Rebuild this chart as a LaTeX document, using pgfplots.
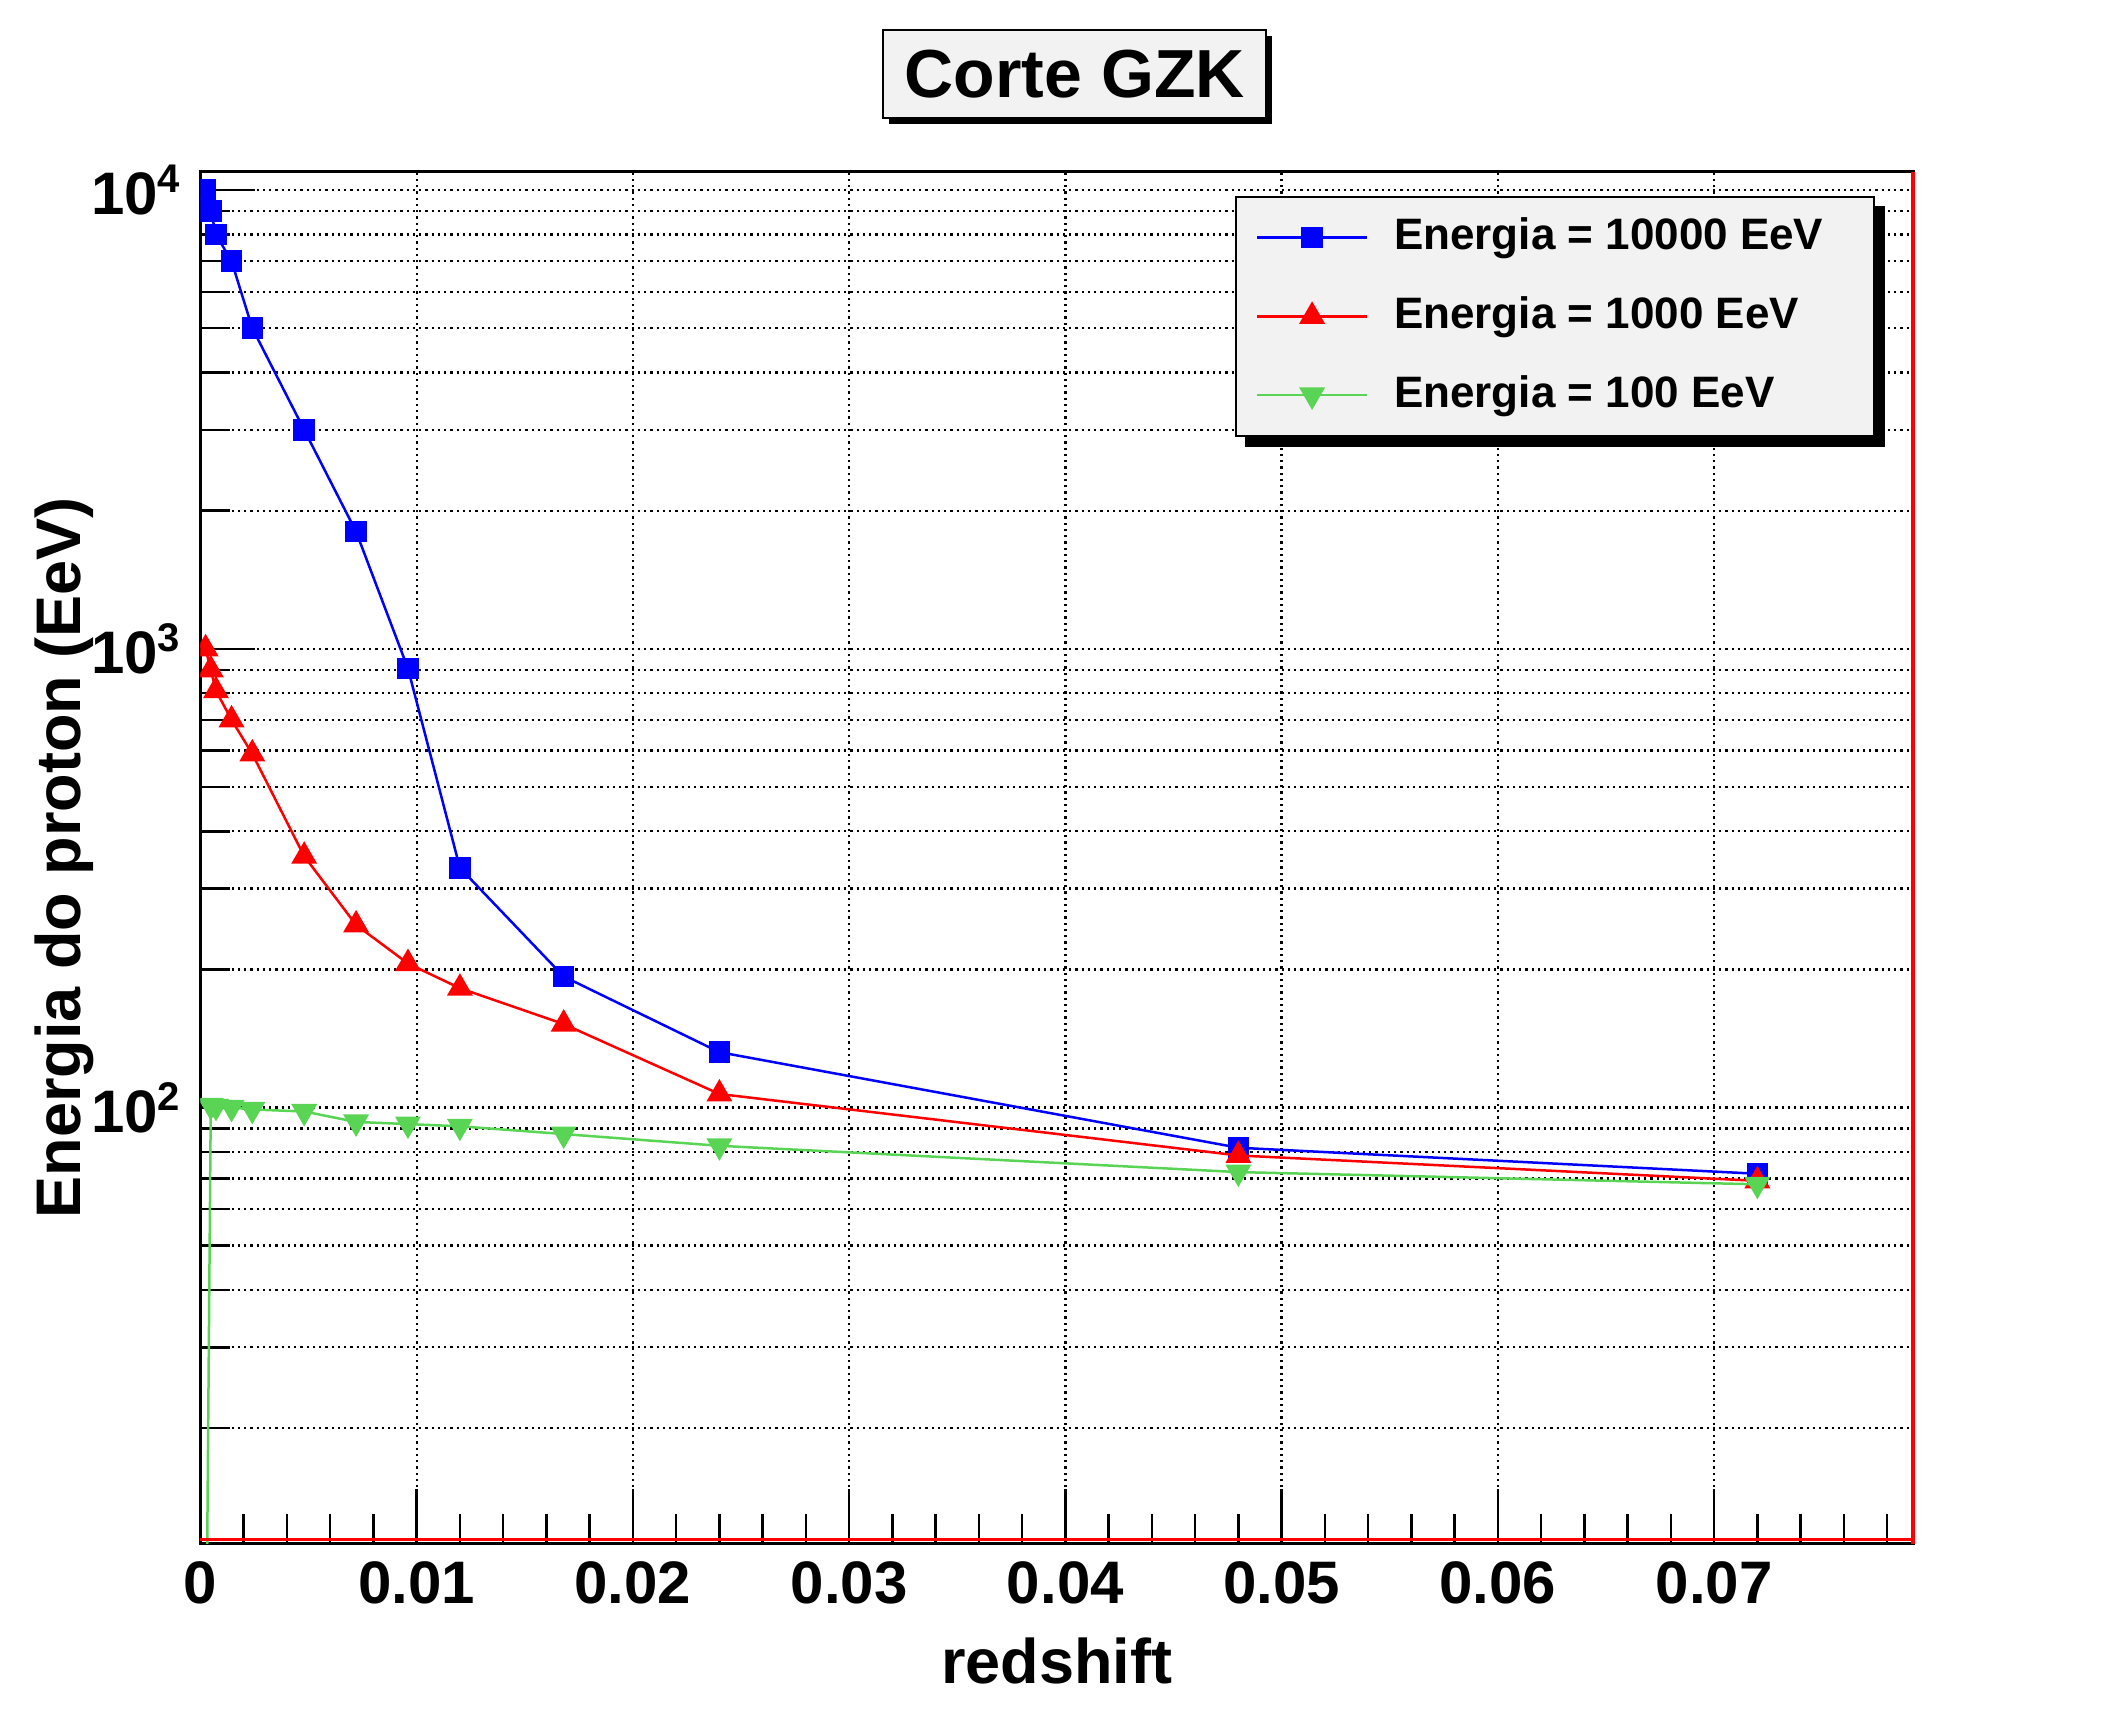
\documentclass[border=0pt]{standalone}
\usepackage{fontspec}
\setmainfont{Liberation Sans}
\usepackage{pgfplots}
\pgfplotsset{compat=1.18}
\usetikzlibrary{shadows}
\definecolor{rootgreen}{RGB}{89,212,84}
\definecolor{boxgray}{RGB}{242,242,242}
\begin{document}
\begin{tikzpicture}
\useasboundingbox (-40.08pt,-33.28pt) rectangle (384.52pt,308.72pt);
\begin{axis}[
  name=ax, at={(0pt,0pt)}, anchor=south west,
  width=342.52pt, height=274.32pt, scale only axis,
  xmin=0, xmax=0.0792, ymode=log, ymin=11.2, ymax=10950,
  scaled x ticks=false,
  xtick={0,0.01,0.02,0.03,0.04,0.05,0.06,0.07},
  xticklabels={0,0.01,0.02,0.03,0.04,0.05,0.06,0.07},
  minor xtick={0.002,0.004,0.006,0.008,0.012,0.014,0.016,0.018,0.022,0.024,0.026,0.028,0.032,0.034,0.036,0.038,0.042,0.044,0.046,0.048,0.052,0.054,0.056,0.058,0.062,0.064,0.066,0.068,0.072,0.074,0.076,0.078},
  ytick={100,1000,10000},
  yticklabels={10\textsuperscript{2},10\textsuperscript{3},10\textsuperscript{4}},
  minor ytick={20,30,40,50,60,70,80,90,200,300,400,500,600,700,800,900,2000,3000,4000,5000,6000,7000,8000,9000},
  xtick pos=bottom, ytick pos=left,
  tick align=inside,
  major tick length=11pt, minor tick length=6pt,
  tick style={black, line width=0.5pt},
  axis line style={line width=0.6pt},
  xmajorgrids=true, ymajorgrids=true, yminorgrids=true,
  major grid style={black, line width=0.45pt, dash pattern=on 0.45pt off 0.8pt},
  minor grid style={black, line width=0.45pt, dash pattern=on 0.45pt off 0.8pt},
  tick label style={font=\fontsize{12}{14}\selectfont\bfseries},
  xlabel={redshift},
  xlabel style={at={(axis description cs:0.5,-0.0857)}, anchor=center, font=\fontsize{12.6}{15}\selectfont\bfseries},
  ylabel={Energia do proton (EeV)},
  ylabel style={at={(axis description cs:-0.0797,0.5)}, anchor=center, font=\fontsize{12.6}{15}\selectfont\bfseries},
  title={Corte GZK},
  title style={at={(0.5,1)}, anchor=center, yshift=13.6pt, xshift=3.6pt,
    font=\fontsize{13.6}{16}\selectfont\bfseries, draw=black, line width=0.5pt, fill=boxgray,
    minimum width=76.6pt, minimum height=17.6pt, inner sep=0pt,
    drop shadow={shadow xshift=1.2pt, shadow yshift=-1.2pt, fill=black, opacity=1}},
  clip marker paths=true,
  legend cell align=left,
  legend image code/.code={\draw[mark repeat=2,mark phase=2,#1] plot coordinates {(0pt,0pt) (11pt,0pt) (22pt,0pt)};},
  legend style={name=leg, at={(0.604,0.9825)}, anchor=north west, draw=black, fill=boxgray,
    font=\fontsize{8.8}{10}\selectfont\bfseries,
    inner xsep=4pt, inner ysep=2.2pt, row sep=3.85pt,
    /tikz/every odd column/.append style={column sep=3.15pt}},
]
\addplot[color=blue, line width=0.5pt, mark=square*, mark size=1.9pt, mark options={solid, fill=blue}] coordinates {
(0.00024,10000) (0.00048,9000) (0.00072,8000) (0.00144,7000) (0.0024,5000) (0.0048,3000) (0.0072,1800) (0.0096,905) (0.012,333) (0.0168,193) (0.024,132) (0.048,81.7) (0.072,71.7)};
\addlegendentry{Energia = 10000 EeV\hspace*{4.15pt}}
\addplot[color=red, line width=0.5pt, mark=triangle*, mark size=2.5pt, mark options={solid, fill=red}] coordinates {
(0.00024,1000) (0.00048,900) (0.00072,810) (0.00144,700) (0.0024,590) (0.0048,353) (0.0072,250) (0.0096,206) (0.012,182) (0.0168,152) (0.024,107) (0.048,78.6) (0.072,69.2)};
\addlegendentry{Energia = 1000 EeV}
\addplot[color=rootgreen, line width=0.5pt, mark=triangle*, mark size=2.5pt, mark options={solid, fill=rootgreen, rotate=180}] coordinates {
(0.00024,4) (0.00048,101) (0.00072,100.5) (0.00144,100) (0.0024,99) (0.0048,98) (0.0072,93) (0.0096,92) (0.012,91) (0.0168,87.5) (0.024,82.5) (0.048,72.3) (0.072,68)};
\addlegendentry{Energia = 100 EeV}
\end{axis}
\fill[black] ([shift={(0pt,-2pt)}]leg.north east) rectangle ([shift={(2pt,-2pt)}]leg.south east);
\fill[black] ([shift={(2pt,0pt)}]leg.south west) rectangle ([shift={(2pt,-2pt)}]leg.south east);
\draw[red, line width=0.7pt] ([yshift=0.8pt]ax.south west) -- ([yshift=0.8pt]ax.south east);
\draw[red, line width=0.7pt] (ax.south east) -- (ax.north east);
\end{tikzpicture}
\end{document}
